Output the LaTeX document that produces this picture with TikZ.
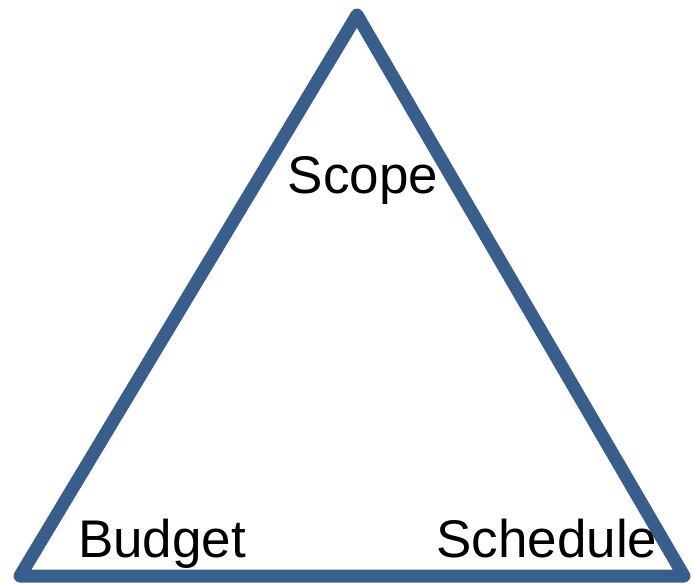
\documentclass[tikz,border=0pt]{standalone}
\usepackage{fontspec}
\setmainfont{Liberation Sans}
\usetikzlibrary{positioning}
\definecolor{edgeblue}{RGB}{58,94,140}

\begin{document}
\begin{tikzpicture}[x=1pt,y=-1pt]
		\tikzset{side/.style={draw=edgeblue,line width=13pt,line join=round,line cap=round}}
		\tikzset{corner/.style={font=\fontsize{53}{64}\selectfont,anchor=base,inner sep=0pt}}
		\useasboundingbox (0,0) rectangle (694,584);
		\coordinate (top) at (357,15);
		\coordinate (left) at (20,576);
		\coordinate (right) at (684,576);
		\draw[side] (top) -- (left) -- (right) -- cycle;
		\node[corner] (scope) at (363,193) {Scope};
		\node[corner] (budget) at (162,557) {Budget};
		\node[corner] (schedule) at (547,557) {Schedule};
	\end{tikzpicture}
\end{document}
